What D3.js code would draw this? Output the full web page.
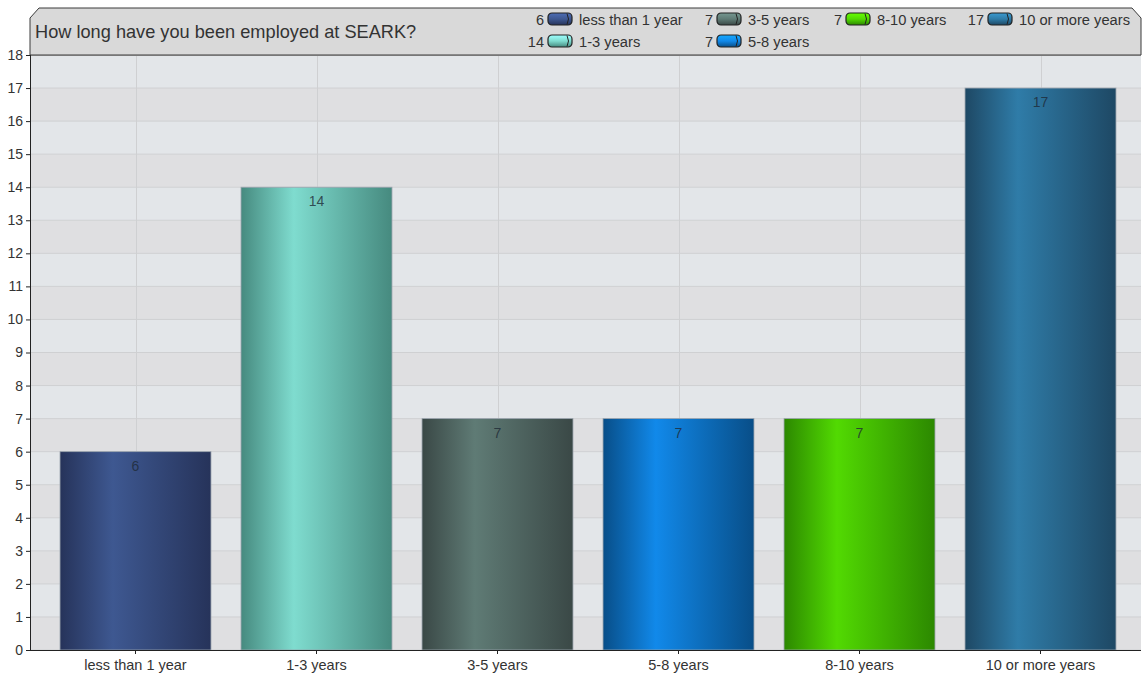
<!DOCTYPE html>
<html><head><meta charset="utf-8">
<script src="https://cdn.jsdelivr.net/npm/d3@7/dist/d3.min.js"></script>
<style>body{margin:0;background:#fff;}svg{display:block;font-family:"Liberation Sans",Arial,sans-serif;}</style>
</head><body>
<svg id="c" width="1143" height="677"></svg>
<script>
const categories = ["less than 1 year","1-3 years","3-5 years","5-8 years","8-10 years","10 or more years"];
const values = [6,14,7,7,7,17];
const edgeColors = ["#26335a","#468a7f","#3a4846","#084e88","#2c8800","#1e4864"];
const midColors  = ["#3e5891","#7fdccf","#5f7b75","#1189ea","#52da02","#2f7ca8"];
const yTicks = d3.range(0,19);
const title = "How long have you been employed at SEARK?";

const svg = d3.select("#c");
const L = 30, R = 1141, T = 55, B = 650;
const x = d3.scaleBand().domain(categories).range([45,1131]).paddingInner(0.166).paddingOuter(0.083);
const y = d3.scaleLinear().domain([0,18]).range([B,T]);

const defs = svg.append("defs");
categories.forEach((c,i)=>{
  const g = defs.append("linearGradient").attr("id","g"+i).attr("x1","0").attr("x2","1").attr("y1","0").attr("y2","0");
  g.append("stop").attr("offset","0").attr("stop-color",edgeColors[i]);
  g.append("stop").attr("offset","0.35").attr("stop-color",midColors[i]);
  g.append("stop").attr("offset","1").attr("stop-color",edgeColors[i]);
  const s = defs.append("linearGradient").attr("id","s"+i).attr("x1","0").attr("x2","0").attr("y1","0").attr("y2","1");
  s.append("stop").attr("offset","0").attr("stop-color",d3.color(midColors[i]).brighter(0.6));
  s.append("stop").attr("offset","0.5").attr("stop-color",midColors[i]);
  s.append("stop").attr("offset","1").attr("stop-color",edgeColors[i]);
});

// bands
svg.append("g").selectAll("rect").data(d3.range(0,18)).join("rect")
  .attr("x",L).attr("width",R-L)
  .attr("y",d=>y(d+1)).attr("height",d=>y(d)-y(d+1))
  .attr("fill",d=>d%2===1?"#e3e6e9":"#dfdfe1");
// horizontal grid
svg.append("g").selectAll("line").data(yTicks).join("line")
  .attr("x1",L).attr("x2",R).attr("y1",d=>y(d)).attr("y2",d=>y(d))
  .attr("stroke","#cfd0d2").attr("stroke-width",1);
// vertical grid
svg.append("g").selectAll("line").data(categories).join("line")
  .attr("x1",d=>Math.round(x(d)+x.bandwidth()/2)+0.5).attr("x2",d=>Math.round(x(d)+x.bandwidth()/2)+0.5)
  .attr("y1",T).attr("y2",B).attr("stroke","#cfd0d2");

// header
const hp = `M${L},${T} L${L},18 L${L+9},8 L${R-9},8 L${R},18 L${R},${T} Z`;
svg.append("path").attr("d",hp).attr("fill","#d9d9d9").attr("stroke","#3a3a3a").attr("stroke-width",1);
svg.append("line").attr("x1",L).attr("x2",R).attr("y1",T+0.5).attr("y2",T+0.5).attr("stroke","#777");
svg.append("text").attr("x",35).attr("y",38).attr("font-size",18.2).attr("fill","#333").text(title);

// legend (column-major)
const cols = [548,717,846,988];
const pos = [[0,0],[0,1],[1,0],[1,1],[2,0],[3,0]];
const lg = svg.append("g").selectAll("g").data(categories).join("g")
  .attr("transform",(d,i)=>`translate(${cols[pos[i][0]]},${19+pos[i][1]*22})`);
lg.append("text").attr("x",-4).attr("y",5.5).attr("text-anchor","end").attr("font-size",14.5).attr("fill","#333").text((d,i)=>values[i]);
lg.append("rect").attr("x",0).attr("y",-6).attr("width",24).attr("height",12).attr("rx",4)
  .attr("fill",(d,i)=>`url(#s${i})`).attr("stroke","#222").attr("stroke-width",1.2);
lg.append("path").attr("d","M19,-5.5 Q22,0 19,5.5").attr("fill","none").attr("stroke","#222").attr("stroke-width",1);
lg.append("text").attr("x",31).attr("y",5.5).attr("font-size",14.7).attr("fill","#333").text(d=>d);

// bars
svg.append("g").selectAll("rect").data(categories).join("rect")
  .attr("x",d=>x(d)).attr("width",x.bandwidth())
  .attr("y",(d,i)=>y(values[i])).attr("height",(d,i)=>B-y(values[i]))
  .attr("fill",(d,i)=>`url(#g${i})`).attr("stroke","#9aa3ad").attr("stroke-width",0.8);
svg.append("g").selectAll("text").data(categories).join("text")
  .attr("x",d=>x(d)+x.bandwidth()/2).attr("y",(d,i)=>y(values[i])+19)
  .attr("text-anchor","middle").attr("font-size",14).attr("fill","#1e2a36").attr("fill-opacity",0.8)
  .text((d,i)=>values[i]);

// axes
const ya = svg.append("g").attr("transform",`translate(${L},0)`)
  .call(d3.axisLeft(y).tickValues(yTicks).tickSize(4).tickPadding(3).tickFormat(d3.format("d")));
ya.select(".domain").attr("stroke","#222").attr("d",`M0.5,${T}V${B}`);
ya.selectAll(".tick line").attr("stroke","#222");
ya.selectAll("text").attr("font-size",14).attr("fill","#333").attr("font-family","Liberation Sans, Arial, sans-serif");

const xa = svg.append("g").attr("transform",`translate(0,${B})`)
  .call(d3.axisBottom(x).tickSize(4).tickPadding(6));
xa.select(".domain").attr("stroke","#222").attr("d",`M${L},0.5H${R}`);
xa.selectAll(".tick line").attr("stroke","#222");
xa.selectAll("text").attr("font-size",14.5).attr("fill","#333").attr("font-family","Liberation Sans, Arial, sans-serif");
</script>
</body></html>
